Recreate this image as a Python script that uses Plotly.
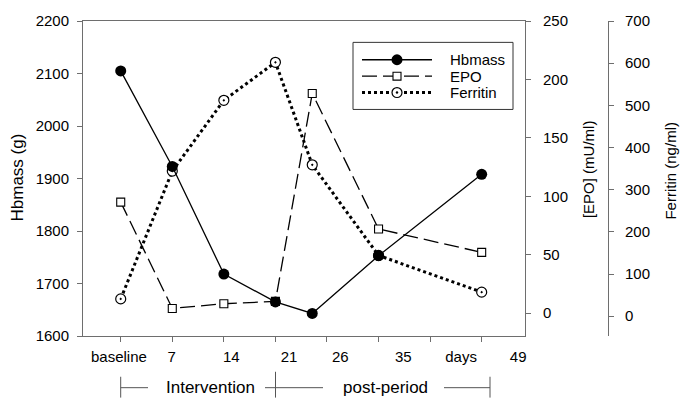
import plotly.graph_objects as go

# ---- data ----
days = [0, 7, 14, 21, 26, 35, 49]
hbmass = [2105, 1923, 1718, 1665, 1643, 1753, 1908]
epo = [95, 4, 8, 10, 188, 72, 52]
ferritin = [41, 344, 512, 602, 359, 144, 57]

tick_days = [0, 7, 14, 21, 28, 35, 42, 49]
label_pos = [-0.25, 6.93, 15.0, 22.85, 29.8, 38.35, 46.2, 53.95]
label_text = ["baseline", "7", "14", "21", "26", "35", "days", "49"]

hb_ticks = [1600, 1700, 1800, 1900, 2000, 2100, 2200]
epo_ticks = [0, 50, 100, 150, 200, 250]
fer_ticks = [0, 100, 200, 300, 400, 500, 600, 700]

series_names = ["Hbmass", "EPO", "Ferritin"]

# ---- geometry helpers (pixels) ----
W, H = 680, 398
L, R, T, B = 83, 610, 19, 336        # paper area in pixels
PW, PH = R - L, B - T
PLOT_RIGHT = 525
FER_AXIS_X = 608

def px(xp):
    return (xp - L) / PW

def py(yp):
    return (B - yp) / PH

X0, X1 = -5.12, 54.88

FONT = "Liberation Sans, Arial, sans-serif"
AX = "#6e6e6e"

EPO_DASH = "15px,6px"

fig = go.Figure()

fig.add_trace(go.Scatter(
    x=days, y=ferritin, name="Ferritin", mode="lines+markers", yaxis="y",
    line=dict(color="black", width=3, dash="dot"),
    marker=dict(symbol="circle-dot", size=10, color="white",
                line=dict(color="black", width=1.2))))
fig.add_trace(go.Scatter(
    x=days, y=epo, name="EPO", mode="lines+markers", yaxis="y2",
    line=dict(color="black", width=1.3, dash=EPO_DASH),
    marker=dict(symbol="square", size=8, color="white",
                line=dict(color="black", width=1.1))))
fig.add_trace(go.Scatter(
    x=days, y=hbmass, name="Hbmass", mode="lines+markers", yaxis="y3",
    line=dict(color="black", width=1.3),
    marker=dict(symbol="circle", size=11, color="black")))

common_y = dict(ticks="outside", ticklen=5, tickcolor=AX, showline=True,
                linecolor=AX, linewidth=1, showgrid=False, zeroline=False,
                tickfont=dict(size=15, color="black"), tickmode="array")

fig.update_layout(
    width=W, height=H,
    margin=dict(l=L, r=W - R, t=T, b=H - B, pad=0),
    paper_bgcolor="white", plot_bgcolor="white",
    font=dict(family=FONT, color="black"),
    showlegend=False,
    xaxis=dict(domain=[0, px(PLOT_RIGHT)], range=[X0, X1],
               tickmode="array", tickvals=label_pos, ticktext=label_text,
               ticks="", showline=True, mirror=True, linecolor=AX,
               linewidth=1, showgrid=False, zeroline=False,
               tickfont=dict(size=15, color="black"), ticklabelstandoff=7,
               minor=dict(ticks="outside", tickmode="array",
                          tickvals=tick_days, ticklen=5, tickcolor=AX,
                          showgrid=False)),
    yaxis=dict(range=[-47, 700], tickvals=fer_ticks, side="right",
               anchor="free", position=px(FER_AXIS_X),
               ticklabelstandoff=8, **common_y),
    yaxis2=dict(range=[-19.6, 250], tickvals=epo_ticks, side="right",
                overlaying="y", anchor="x", ticklabelstandoff=9, **common_y),
    yaxis3=dict(range=[1600, 2200], tickvals=hb_ticks, side="left",
                overlaying="y", anchor="x", ticklabelstandoff=5, **common_y),
)

# axis titles
titles = [("Hbmass (g)", 18, 176.5, 17), ("[EPO] (mU/ml)", 588, 168, 15),
          ("Ferritin (ng/ml)", 671, 169.5, 15)]
for txt, xp_, yp_, fs in titles:
    fig.add_annotation(text=txt, xref="paper", yref="paper", x=px(xp_), y=py(yp_),
                       xanchor="center", yanchor="middle", textangle=-90,
                       showarrow=False, font=dict(size=fs, color="black"))

def shape_line(x0p, x1p, y0p, y1p, color, width=1, dash="solid"):
    fig.add_shape(type="line", xref="paper", yref="paper", x0=px(x0p), x1=px(x1p),
                  y0=py(y0p), y1=py(y1p), line=dict(color=color, width=width, dash=dash))

# ---- legend box (drawn as shapes + text) ----
fig.add_shape(type="rect", xref="paper", yref="paper", x0=px(353), x1=px(513),
              y0=py(40.5), y1=py(108), line=dict(color="#333333", width=1),
              fillcolor="white")
LEG_Y = [58, 74.5, 91]
LX0, LX1, LXM = 362, 432, 397
shape_line(LX0, LX1, LEG_Y[0], LEG_Y[0], "black", 1.3)
shape_line(LX0, LX1, LEG_Y[1], LEG_Y[1], "black", 1.3, EPO_DASH)
shape_line(LX0, LX1, LEG_Y[2], LEG_Y[2], "black", 3, "dot")
# markers
r = 5.5
fig.add_shape(type="circle", xref="paper", yref="paper", x0=px(LXM - r), x1=px(LXM + r),
              y0=py(LEG_Y[0] + r), y1=py(LEG_Y[0] - r), fillcolor="black",
              line=dict(color="black", width=0))
s = 4
fig.add_shape(type="rect", xref="paper", yref="paper", x0=px(LXM - s), x1=px(LXM + s),
              y0=py(LEG_Y[1] + s), y1=py(LEG_Y[1] - s), fillcolor="white",
              line=dict(color="black", width=1.1))
r2 = 5
fig.add_shape(type="circle", xref="paper", yref="paper", x0=px(LXM - r2), x1=px(LXM + r2),
              y0=py(LEG_Y[2] + r2), y1=py(LEG_Y[2] - r2), fillcolor="white",
              line=dict(color="black", width=1.2))
d = 1.2
fig.add_shape(type="circle", xref="paper", yref="paper", x0=px(LXM - d), x1=px(LXM + d),
              y0=py(LEG_Y[2] + d), y1=py(LEG_Y[2] - d), fillcolor="black",
              line=dict(color="black", width=0))
for name, yp_ in zip(series_names, LEG_Y):
    fig.add_annotation(text=name, xref="paper", yref="paper", x=px(448), y=py(yp_),
                       xanchor="left", yanchor="middle", showarrow=False,
                       font=dict(size=15, color="black"))

# ---- period brackets below the axis ----
BR = "#555555"
shape_line(120.7, 120.7, 377, 398, BR); shape_line(120.7, 148, 388, 388, BR)
shape_line(265, 323, 388, 388, BR); shape_line(275.5, 275.5, 372, 398, BR)
shape_line(444, 490, 388, 388, BR); shape_line(490, 490, 377, 398, BR)
for txt, xp_ in [("Intervention", 210), ("post-period", 385)]:
    fig.add_annotation(text=txt, xref="paper", yref="paper", x=px(xp_), y=py(388),
                       xanchor="center", yanchor="middle", showarrow=False,
                       font=dict(size=17, color="black"))

fig.write_html("out.html")
